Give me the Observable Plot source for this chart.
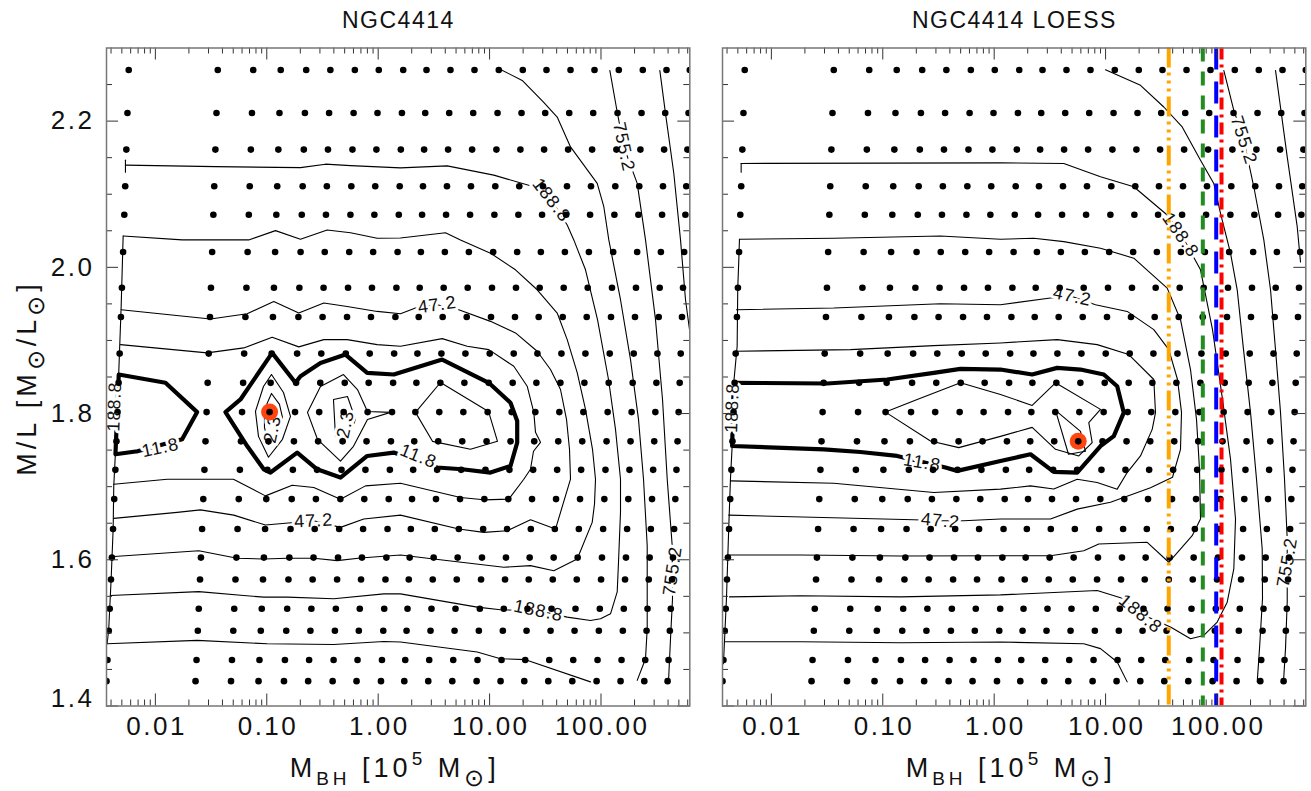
<!DOCTYPE html>
<html><head><meta charset="utf-8">
<script src="https://cdn.jsdelivr.net/npm/d3@7"></script>
<script src="https://cdn.jsdelivr.net/npm/@observablehq/plot@0.6"></script>
<style>
html,body{margin:0;padding:0;background:#fff;}
#chart{position:relative;width:1311px;height:791px;overflow:hidden;background:#fff;}
#chart svg{position:absolute;top:0;}
#chart g[font-size="26"]{letter-spacing:2.5px;}
#chart g[font-size="18"]{letter-spacing:1px;}
#chart .ttl{letter-spacing:1.5px;}
#chart .axt{letter-spacing:4px;}
</style></head><body><div id="chart"></div>
<script>
// ---------------- DATA ----------------
// grid rows (M/L) and grid columns (M_BH per unit M/L, 10^5 Msun)
const mlRows = [2.270, 2.211, 2.161, 2.111, 2.072, 2.021, 1.972, 1.932, 1.882, 1.842, 1.802, 1.762, 1.723, 1.683, 1.642, 1.603, 1.573, 1.533, 1.503, 1.463, 1.434];
const mbhPerML = [0.00254, 0.0160, 0.0333, 0.0588, 0.0995, 0.164, 0.272, 0.446, 0.739, 1.196, 1.963, 3.225, 5.33, 8.75, 14.28, 23.46, 38.52, 63.66, 104.5, 170.6, 276.1];
const xTickLabels = [0.01, 0.1, 1, 10, 100];
const yTickLabels = [1.4, 1.6, 1.8, 2.0, 2.2];
const titles = ["NGC4414", "NGC4414 LOESS"];
const bestLeft = {mbh: 0.106, ml: 1.802};
const bestRight = {mbh: 5.68, ml: 1.762};
const vLines = [
  {mbh: 36.9, color: "#FFA500", dash: "20,5,3,5,3,5,3,5"},
  {mbh: 74.6, color: "#228B22", dash: "14,10"},
  {mbh: 98.4, color: "#0000FF", dash: "22,12"},
  {mbh: 109.8, color: "#FF0000", dash: "12,5,3,5"}
];
// contour polylines: [log10 M_BH, M/L]
const leftTick188 = [[-2.2685,2.1466],[-2.2685,2.1302]];
const leftC188 = [[-2.2685,2.1398],[-1.4606,2.1377],[-0.6975,2.1364],[-0.4731,2.1411],[-0.2487,2.1391],[0.2002,2.1361],[0.6194,2.1388],[1.0377,2.1261],[1.3968,2.1102],[1.5557,2.0920],[1.6967,2.0579],[1.7559,2.0375],[1.8609,1.9966],[1.9687,1.9284],[2.0674,1.8466],[2.1302,1.7784],[2.1751,1.7102],[2.1751,1.6652],[2.1572,1.5970],[2.1455,1.5561],[2.0854,1.5261],[1.9956,1.5193],[1.9058,1.5170],[1.6967,1.5216],[1.4390,1.5302],[1.0979,1.5316],[0.8887,1.5352],[0.2002,1.5534],[0.0503,1.5534],[-0.3986,1.5466],[-0.8169,1.5489],[-1.0270,1.5489],[-1.2065,1.5511],[-1.6105,1.5565],[-2.4032,1.5511]];
const leftVert = [[-2.2891,2.0429],[-2.3071,1.9461],[-2.3286,1.8561],[-2.3583,1.7470],[-2.3735,1.7007],[-2.3789,1.6420],[-2.3969,1.5738],[-2.4184,1.5056],[-2.4328,1.4852]];
const leftC377a = [[1.0799,2.2720],[1.2927,2.2557],[1.4839,2.2261],[1.6069,2.2056],[1.7263,2.1647],[1.9660,2.1148],[2.0252,2.0829],[2.0701,2.0375],[2.1751,1.9557],[2.2649,1.8738],[2.3367,1.7920],[2.3816,1.7102],[2.4148,1.6192],[2.4148,1.5056],[2.3996,1.4647],[2.3250,1.4351]];
const leftC377b = [[-2.4328,1.4852],[-1.6248,1.4897],[-0.9964,1.4852],[-0.3986,1.4842],[0.0503,1.4883],[0.2002,1.4875],[0.8887,1.4739],[1.0979,1.4647],[1.3223,1.4634],[1.9058,1.4330]];
const leftC755 = [[2.0791,2.2693],[2.1455,2.2125],[2.2048,2.1647],[2.3250,2.1148],[2.3996,2.0375],[2.4893,1.9284],[2.5522,1.8193],[2.5944,1.7102],[2.6392,1.6192],[2.6419,1.5466],[2.6240,1.4920],[2.6060,1.4334]];
const leftC1510 = [[2.5279,2.2693],[2.5791,2.2103],[2.6536,2.1284],[2.7138,2.0375],[2.7586,1.9557],[2.7945,1.9148]];
const leftC94 = [[-2.2891,2.0429],[-1.7595,2.0375],[-1.1616,2.0375],[-0.9219,2.0502],[-0.6975,2.0384],[-0.4578,2.0511],[-0.2487,2.0474],[-0.0090,2.0398],[0.2002,2.0402],[0.6042,2.0474],[0.7388,2.0375],[1.0081,2.0194],[1.2325,1.9966],[1.4273,1.9693],[1.6069,1.9375],[1.6967,1.9011],[1.7864,1.8561],[1.8609,1.8057],[1.9238,1.7511],[1.9507,1.7102],[1.9417,1.6761],[1.9211,1.6512],[1.7864,1.6011],[1.5764,1.5851],[1.3672,1.5920],[1.1275,1.5898],[0.4991,1.6011],[0.2002,1.6066],[-0.1589,1.6025],[-0.3681,1.5988],[-0.5781,1.6021],[-0.8169,1.6021],[-1.0270,1.6011],[-1.2658,1.6021],[-1.6105,1.6124],[-2.4032,1.6042]];
const leftC47 = [[-2.3071,1.9420],[-1.5054,1.9293],[-1.1760,1.9366],[-0.9372,1.9533],[-0.7128,1.9375],[-0.4883,1.9512],[-0.2783,1.9465],[-0.0090,1.9397],[0.2002,1.9366],[0.3348,1.9443],[0.5296,1.9488],[0.7235,1.9420],[1.0081,1.9261],[1.2325,1.9103],[1.4273,1.8852],[1.5467,1.8602],[1.6365,1.8329],[1.6904,1.7920],[1.7173,1.7511],[1.7263,1.7102],[1.5916,1.6420],[1.3672,1.6547],[1.1580,1.6397],[0.9480,1.6375],[0.7235,1.6420],[0.2002,1.6611],[-0.1293,1.6557],[-0.3384,1.6443],[-0.5781,1.6533],[-1.0117,1.6475],[-1.2963,1.6611],[-1.5952,1.6683],[-1.8044,1.6648],[-2.3735,1.6566]];
const leftC23 = [[-2.3134,1.8943],[-1.5351,1.8830],[-1.2065,1.8898],[-0.9516,1.9043],[-0.7128,1.8912],[-0.4883,1.9011],[-0.2783,1.9011],[-0.0090,1.8943],[0.2002,1.8920],[0.5745,1.9025],[0.7990,1.8920],[0.9929,1.8875],[1.2173,1.8647],[1.3376,1.8374],[1.3968,1.8016],[1.4121,1.7743],[1.4570,1.7607],[1.3941,1.7484],[1.3672,1.7238],[1.3071,1.7102],[1.1724,1.6829],[0.9480,1.6820],[0.7388,1.6852],[0.2002,1.7047],[-0.1140,1.7011],[-0.3384,1.6829],[-0.5781,1.6989],[-0.7720,1.7020],[-1.0117,1.6874],[-1.2990,1.7102],[-1.8941,1.7102],[-2.3735,1.7034]];
const leftC11a = [[-2.1608,1.7484],[-2.3583,1.7443],[-2.3286,1.8534],[-1.9094,1.8421],[-1.6248,1.8020],[-1.7595,1.7648],[-2.1608,1.7484]];
const leftC11b = [[0.1400,1.7466],[-0.0987,1.7420],[-0.3384,1.7125],[-0.5476,1.7238],[-0.7271,1.7466],[-0.9668,1.7193],[-1.0270,1.7238],[-1.1760,1.7556],[-1.3708,1.8020],[-1.2361,1.8193],[-0.9516,1.8830],[-0.7424,1.8421],[-0.6975,1.8511],[-0.5180,1.8693],[-0.2935,1.8807],[-0.0987,1.8557],[0.1400,1.8534],[0.5745,1.8738],[0.9929,1.8421],[1.1877,1.8148],[1.2478,1.7897],[1.2478,1.7603],[1.1877,1.7283],[1.0081,1.7193],[0.7541,1.7238],[0.5296,1.7262],[0.1400,1.7466]];
const leftC6a = [[-0.9578,1.8534],[-0.8501,1.8288],[-0.7873,1.7961],[-0.8591,1.7648],[-0.9848,1.7402],[-1.0745,1.7688],[-1.1015,1.8029],[-1.0297,1.8370],[-0.9578,1.8534]];
const leftC6b = [[-0.6347,1.8016],[-0.5180,1.8370],[-0.3115,1.8534],[-0.1858,1.8329],[-0.0961,1.8029],[0.1104,1.8016],[-0.0961,1.7920],[-0.2217,1.7552],[-0.3384,1.7348],[-0.5449,1.7648],[-0.6347,1.8016]];
const leftC6c = [[0.3348,1.8016],[0.5593,1.8425],[0.9902,1.8029],[1.0710,1.7620],[0.8286,1.7511],[0.4875,1.7620],[0.3348,1.8016]];
const leftC2a = [[-0.9578,1.8275],[-0.8860,1.8125],[-0.8591,1.7947],[-0.9040,1.7688],[-0.9848,1.7580],[-1.0207,1.7811],[-1.0207,1.8057],[-0.9578,1.8275]];
const leftC2b = [[-0.4013,1.8193],[-0.2756,1.8234],[-0.2038,1.7920],[-0.2756,1.7648],[-0.3833,1.7688],[-0.4013,1.8193]];
const leftLabels = [
  {lx:1.5557, ml:2.0920, t:"188.8", rot:52}, {lx:1.4390, ml:1.5302, t:"188.8", rot:12},
  {lx:-2.3672, ml:1.8097, t:"188.8", rot:-88}, {lx:2.2048, ml:2.1647, t:"755.2", rot:78},
  {lx:2.6419, ml:1.5847, t:"755.2", rot:-82}, {lx:0.5296, ml:1.9488, t:"47.2", rot:-8},
  {lx:-0.5781, ml:1.6533, t:"47.2", rot:-3}, {lx:-1.9543, ml:1.7534, t:"11.8", rot:-12},
  {lx:0.3618, ml:1.7416, t:"11.8", rot:22}, {lx:-0.9489, ml:1.7786, t:"2.3", rot:-78},
  {lx:-0.2935, ml:1.7854, t:"2.3", rot:-78}
];

const rightTick188 = [[-2.2712,2.1421],[-2.2712,2.1302]];
const rightC188 = [[-2.2712,2.1421],[0.0566,2.1429],[0.6248,2.1421],[0.9543,2.1238],[1.2532,2.1102],[1.5530,2.0716],[1.6724,2.0470],[1.8520,1.9966],[1.9597,1.9148],[2.0495,1.8193],[2.1213,1.7375],[2.1662,1.6557],[2.1509,1.5875],[2.0916,1.5420],[2.0019,1.5148],[1.8816,1.4965],[1.7622,1.4920],[1.5826,1.5080],[1.3133,1.5261],[1.1634,1.5466],[0.9246,1.5579],[0.0566,1.5520],[-0.8411,1.5493],[-1.7388,1.5507],[-2.3762,1.5493]];
const rightVert = [[-2.2864,2.0384],[-2.2927,2.0079],[-2.3017,1.9716],[-2.3071,1.8920],[-2.3376,1.8421],[-2.3520,1.7556],[-2.3672,1.7102],[-2.3825,1.6443],[-2.4032,1.5466],[-2.4301,1.4579]];
const rightC94 = [[-2.2864,2.0384],[-1.4399,2.0398],[-0.4821,2.0429],[0.0566,2.0384],[0.3555,2.0398],[0.6248,2.0352],[0.9543,2.0262],[1.2532,2.0125],[1.4031,1.9921],[1.5530,1.9716],[1.6724,1.9284],[1.7622,1.8602],[1.8161,1.7920],[1.8430,1.7238],[1.8520,1.6557],[1.7774,1.6329],[1.5674,1.5966],[1.3735,1.6239],[0.9390,1.6216],[0.8043,1.6124],[0.5054,1.6056],[0.0566,1.6056],[-0.8411,1.6052],[-1.7388,1.6066],[-2.3897,1.6066]];
const rightC47 = [[-2.3134,1.9420],[-1.4399,1.9443],[-0.4821,1.9502],[0.0566,1.9488],[0.5054,1.9580],[0.7002,1.9602],[0.9094,1.9488],[1.1939,1.9397],[1.4327,1.9148],[1.5674,1.8875],[1.6455,1.8466],[1.6814,1.8016],[1.6724,1.7511],[1.6006,1.7129],[1.4031,1.6986],[1.0440,1.6788],[0.7451,1.6693],[0.5054,1.6557],[0.0566,1.6557],[-0.2729,1.6533],[-0.4821,1.6533],[-0.7218,1.6547],[-2.3825,1.6611]];
const rightC23 = [[-2.3224,1.8852],[-1.2900,1.8875],[-0.5422,1.8929],[0.0566,1.8966],[0.5656,1.9011],[0.9246,1.8943],[1.2083,1.8807],[1.4327,1.8466],[1.4480,1.8012],[1.4184,1.7784],[1.3133,1.7420],[1.1939,1.7193],[1.1042,1.6966],[0.9246,1.7057],[0.7451,1.7102],[0.5350,1.6968],[0.3259,1.7011],[0.0566,1.6966],[-0.5422,1.6921],[-1.4399,1.7047],[-2.3672,1.7079]];
const rightC11 = [[-2.3520,1.7556],[-2.3376,1.8421],[-1.4992,1.8411],[-0.9605,1.8466],[-0.5422,1.8557],[-0.3025,1.8612],[0.0566,1.8602],[0.3411,1.8534],[0.5656,1.8625],[0.7747,1.8602],[0.9839,1.8534],[1.1042,1.8374],[1.1634,1.8012],[1.0736,1.7692],[0.9543,1.7556],[0.7451,1.7193],[0.5350,1.7202],[0.3259,1.7443],[0.0566,1.7352],[-0.3321,1.7216],[-0.4372,1.7262],[-0.8708,1.7420],[-1.2002,1.7474],[-1.5297,1.7511],[-2.3520,1.7556]];
const rightC6 = [[-0.9758,1.8020],[-0.6912,1.8193],[-0.3025,1.8421],[0.0566,1.8261],[0.3411,1.8111],[0.5503,1.8421],[0.9543,1.8057],[0.8492,1.7875],[0.8797,1.7603],[0.7595,1.7420],[0.5503,1.7511],[0.3411,1.7811],[0.0566,1.7688],[-0.3178,1.7534],[-0.5718,1.7624],[-0.9758,1.8020]];
const rightC2 = [[0.5503,1.8043],[0.7747,1.7757],[0.8196,1.7484],[0.6670,1.7443],[0.5503,1.8043]];
const rightC377a = [[0.9991,2.2703],[1.3133,2.2489],[1.5225,2.2193],[1.6877,2.1920],[1.8520,2.1466],[1.9713,2.1148],[2.0315,2.0739],[2.1213,2.0194],[2.1814,1.9693],[2.2380,1.8875],[2.3008,1.8016],[2.3547,1.7102],[2.4058,1.6148],[2.4085,1.5466],[2.3816,1.4785],[2.3610,1.4330]];
const rightC377b = [[-2.4211,1.4879],[-1.7388,1.4879],[-0.8411,1.4866],[0.0566,1.4875],[0.8043,1.4852],[0.9543,1.4785],[1.1042,1.4602],[1.1939,1.4330]];
const rightC755 = [[2.0611,2.2693],[2.1509,2.2148],[2.2407,2.1739],[2.3304,2.1102],[2.4202,2.0375],[2.4804,1.9693],[2.5252,1.8875],[2.5701,1.8016],[2.6060,1.7102],[2.6303,1.6284],[2.6303,1.5425],[2.6150,1.4785],[2.5971,1.4334]];
const rightC1510 = [[2.5252,2.2693],[2.6303,2.1511],[2.7200,2.0556],[2.7496,2.0075]];
const rightLabels = [
  {lx:1.6724, ml:2.0443, t:"188.8", rot:55}, {lx:1.3133, ml:1.5261, t:"188.8", rot:40},
  {lx:-2.3520, ml:1.8080, t:"188.8", rot:-88}, {lx:2.2407, ml:2.1739, t:"755.2", rot:72},
  {lx:2.6303, ml:1.5966, t:"755.2", rot:-80}, {lx:0.7002, ml:1.9602, t:"47.2", rot:12},
  {lx:-0.4821, ml:1.6533, t:"47.2", rot:5}, {lx:-0.6463, ml:1.7330, t:"11.8", rot:10}
];

// ---------------- CHART ----------------
const FONT = '"Liberation Sans", Arial, Helvetica, sans-serif';
const H = 791, MT = 47.5, MB = 85.5, FH = H - MT - MB;
const grid = mlRows.flatMap(ml => mbhPerML.map(k => ({mbh: k * ml, ml})));
const xDomain = d3.extent(grid, d => d.mbh);
const xMinor = [];
for (let e = -3; e <= 2; e++) for (let m = 2; m <= 9; m++) {
  const v = m * Math.pow(10, e);
  if (v > xDomain[0] && v < xDomain[1]) xMinor.push(v);
}
const yMinor = d3.range(29, 46).map(i => i * 0.05).filter(v => Math.abs(v * 5 - Math.round(v * 5)) > 0.01);

function rows(arr) { return arr.flatMap((pts, i) => pts.map(p => ({x: Math.pow(10, p[0]), y: p[1], id: i}))); }

function panel(o) {
  const FW = o.width - o.ml - o.mr;
  const tk = "#333";
  const marks = [
    Plot.line(rows(o.thin), {x: "x", y: "y", z: "id", stroke: "#000", strokeWidth: 1.1, clip: true}),
    Plot.line(rows(o.thick), {x: "x", y: "y", z: "id", stroke: "#000", strokeWidth: 4.2, clip: true}),
    Plot.text(o.labels, {x: d => Math.pow(10, d.lx), y: "ml", text: "t", rotate: "rot", fontSize: 18, fill: "#111", stroke: "#fff", strokeWidth: 6, clip: true}),
    Plot.dot([o.best], {x: "mbh", y: "ml", r: 8.5, fill: "#ff4611", clip: true}),
    Plot.dot(grid, {x: "mbh", y: "ml", r: 3.3, fill: "#000", clip: true}),
    ...o.vlines.map(v => Plot.ruleX([v.mbh], {stroke: v.color, strokeWidth: 4, strokeDasharray: v.dash})),
    Plot.ruleX(xTickLabels, {insetTop: FH - 12, stroke: tk}),
    Plot.ruleX(xTickLabels, {insetBottom: FH - 12, stroke: tk}),
    Plot.ruleX(xMinor, {insetTop: FH - 6, stroke: tk}),
    Plot.ruleX(xMinor, {insetBottom: FH - 6, stroke: tk}),
    Plot.ruleY(yTickLabels, {insetRight: FW - 12, stroke: tk}),
    Plot.ruleY(yTickLabels, {insetLeft: FW - 12, stroke: tk}),
    Plot.ruleY(yMinor, {insetRight: FW - 6, stroke: tk}),
    Plot.ruleY(yMinor, {insetLeft: FW - 6, stroke: tk}),
    Plot.frame({stroke: "#777", strokeWidth: 1.5}),
    Plot.text(xTickLabels, {x: d => d, text: d => d.toFixed(2), frameAnchor: "bottom", dy: 29, dx: 1.2, fontSize: 26, fill: "#111"})
  ];
  if (o.yLabels) {
    marks.push(Plot.text(yTickLabels.filter(v => v > 1.5), {y: d => d, text: d => d.toFixed(1), frameAnchor: "left", textAnchor: "end", dx: -12, fontSize: 26, fill: "#111"}));
    marks.push(Plot.text([1.4], {y: d => d, text: d => d.toFixed(1), frameAnchor: "left", textAnchor: "end", dx: -12, dy: -7, fontSize: 26, fill: "#111"}));
  }
  const svg = Plot.plot({
    width: o.width, height: H, marginTop: MT, marginBottom: MB, marginLeft: o.ml, marginRight: o.mr,
    x: {type: "log", domain: xDomain, axis: null},
    y: {domain: [1.4, 2.3], axis: null},
    style: {fontFamily: FONT, background: "transparent", overflow: "visible"},
    marks
  });
  svg.style.left = o.left + "px";
  return svg;
}

const chart = document.getElementById("chart");
chart.appendChild(panel({
  left: 0, width: 706, ml: 106, mr: 16.7, yLabels: true, best: bestLeft, vlines: [],
  thin: [leftTick188, leftC188, leftVert, leftC377a, leftC377b, leftC755, leftC1510, leftC94, leftC47, leftC23, leftC6a, leftC6b, leftC6c, leftC2a, leftC2b],
  thick: [leftC11a, leftC11b], labels: leftLabels
}));
chart.appendChild(panel({
  left: 706, width: 605, ml: 16, mr: 5.7, yLabels: false, best: bestRight, vlines: vLines,
  thin: [rightTick188, rightC188, rightVert, rightC94, rightC47, rightC23, rightC6, rightC2, rightC377a, rightC377b, rightC755, rightC1510],
  thick: [rightC11], labels: rightLabels
}));

// titles and axis titles
const ov = d3.create("svg").attr("width", 1311).attr("height", 791)
  .style("left", "0px").style("pointer-events", "none")
  .style("font-family", FONT).attr("fill", "#111");
[397.7, 1013.7].forEach((cx, i) => {
  ov.append("text").attr("class", "ttl").attr("x", cx + 0.7).attr("y", 28).attr("text-anchor", "middle").attr("font-size", 23).text(titles[i]);
  const t = ov.append("text").attr("class", "axt").attr("x", cx - 3).attr("y", 777).attr("text-anchor", "middle").attr("font-size", 27);
  t.append("tspan").text("M");
  t.append("tspan").attr("dy", 8).attr("font-size", 19).text("BH");
  t.append("tspan").attr("dy", -8).text(" [10");
  t.append("tspan").attr("dy", -12).attr("font-size", 19).text("5");
  t.append("tspan").attr("dy", 12).text(" M");
  t.append("tspan").attr("dy", 9).attr("font-size", 24).text("⊙");
  t.append("tspan").attr("dy", -9).text("]");
});
const yt = ov.append("text").attr("class", "axt").attr("transform", "translate(36,378) rotate(-90)").attr("text-anchor", "middle").attr("font-size", 27);
yt.append("tspan").text("M/L [M");
yt.append("tspan").attr("dy", 8).attr("font-size", 24).text("⊙");
yt.append("tspan").attr("dy", -8).text("/L");
yt.append("tspan").attr("dy", 8).attr("font-size", 24).text("⊙");
yt.append("tspan").attr("dy", -8).text("]");
chart.appendChild(ov.node());
</script></body></html>
